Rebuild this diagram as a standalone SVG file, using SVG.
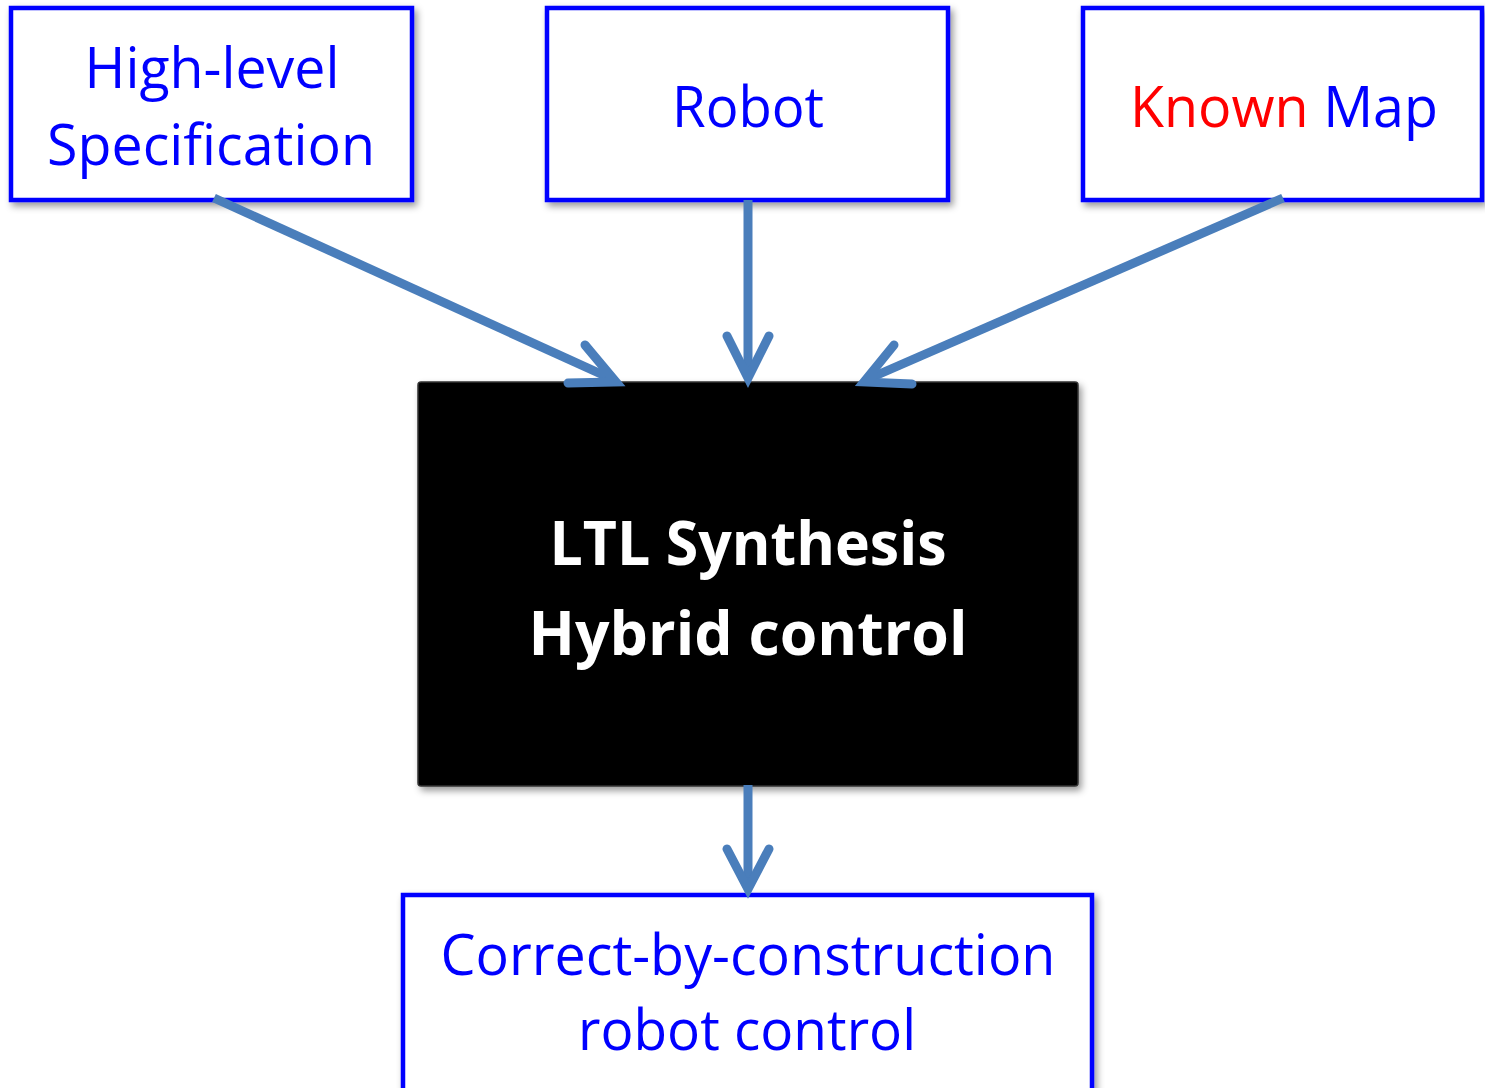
<svg xmlns="http://www.w3.org/2000/svg" width="1485" height="1088" viewBox="0 0 1485 1088">
<style>
.box{fill:#fff;stroke:#0000FF;stroke-width:4.5}
.t{font-family:"Open Sans","Noto Sans","Liberation Sans",sans-serif;font-size:56px;fill:#0000FF;text-anchor:middle}
.w{font-family:"Open Sans","Noto Sans","Liberation Sans",sans-serif;font-size:60px;font-weight:bold;fill:#fff;text-anchor:middle}
.c{fill:none;stroke:#4A7EBB;stroke-width:9;stroke-linecap:butt}
.h{fill:none;stroke:#4A7EBB;stroke-width:9;stroke-linecap:round;stroke-linejoin:miter;stroke-miterlimit:10}
</style>
<defs>
<filter id="sh" x="-5%" y="-5%" width="115%" height="120%">
<feDropShadow dx="3" dy="4" stdDeviation="3.5" flood-color="#000" flood-opacity="0.4"/>
</filter>
</defs>
<rect width="1485" height="1088" fill="#fff"/>
<g id="spec">
<rect class="box" x="11" y="8" width="401" height="192" filter="url(#sh)"/>
<text class="t" x="212" y="88" textLength="255" lengthAdjust="spacingAndGlyphs">High-level</text>
<text class="t" x="211" y="165" textLength="328" lengthAdjust="spacingAndGlyphs">Specification</text>
</g>
<g id="robot">
<rect class="box" x="547" y="8" width="401" height="192" filter="url(#sh)"/>
<text class="t" x="748" y="127" textLength="152" lengthAdjust="spacingAndGlyphs">Robot</text>
</g>
<g id="map">
<rect class="box" x="1083" y="8" width="399" height="192" filter="url(#sh)"/>
<text class="t" x="1284" y="127" textLength="308" lengthAdjust="spacingAndGlyphs"><tspan fill="#FF0000">Known </tspan><tspan fill="#0000FF">Map</tspan></text>
</g>
<g id="synthesis">
<rect x="418" y="382" width="660" height="404" rx="3" fill="#000" stroke="#333" stroke-width="1.5" filter="url(#sh)"/>
<text class="w" x="748" y="565" textLength="397" lengthAdjust="spacingAndGlyphs">LTL Synthesis</text>
<text class="w" x="748" y="655" textLength="439" lengthAdjust="spacingAndGlyphs">Hybrid control</text>
</g>
<g id="output">
<rect class="box" x="403" y="895" width="689" height="200" filter="url(#sh)"/>
<text class="t" x="748" y="975" textLength="615" lengthAdjust="spacingAndGlyphs">Correct-by-construction</text>
<text class="t" x="747" y="1050" textLength="338" lengthAdjust="spacingAndGlyphs">robot control</text>
</g>
<g id="connectors">
<line class="c" x1="214" y1="198" x2="612" y2="379"/>
<path class="h" d="M585,345 L616,382 L568,383"/>
<line class="c" x1="748" y1="200" x2="748" y2="376"/>
<path class="h" d="M727,336 L748,378 L769,336"/>
<line class="c" x1="1283" y1="198" x2="868" y2="379"/>
<path class="h" d="M894,345 L864,382 L912,384"/>
<line class="c" x1="748" y1="785" x2="748" y2="886"/>
<path class="h" d="M727,849 L748,889 L769,849"/>
</g>
</svg>
